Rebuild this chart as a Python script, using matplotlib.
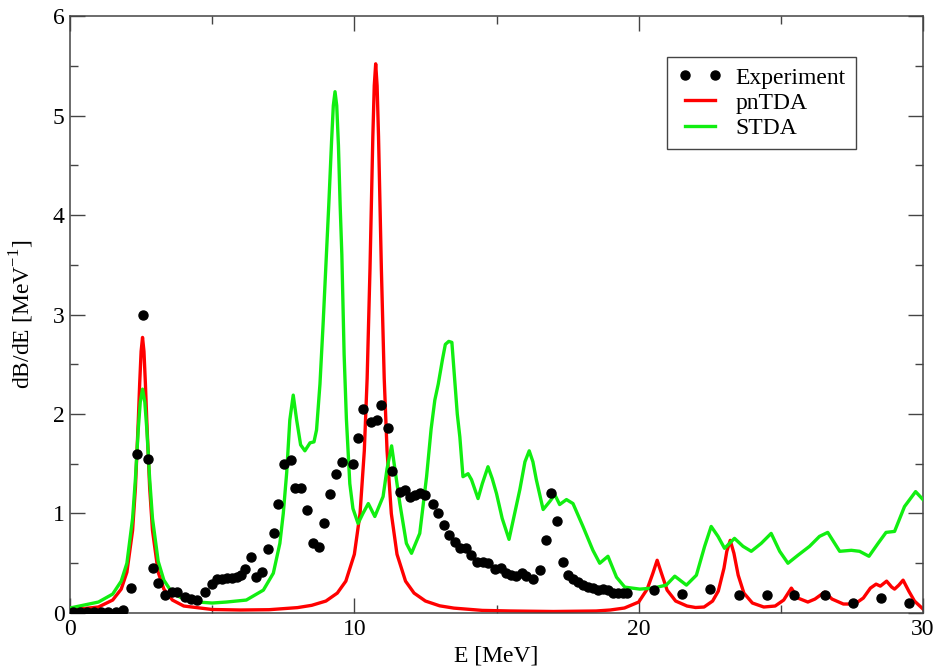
import matplotlib
matplotlib.use("Agg")
import matplotlib.pyplot as plt
from matplotlib.ticker import MultipleLocator

# experimental points (E in MeV, dB/dE)
exp_e = [0.1, 0.35, 0.6, 0.85, 1.1, 1.35, 1.6, 1.85, 2.14, 2.37, 2.55, 2.75, 2.93,
         3.10, 3.34, 3.57, 3.75, 4.04, 4.27, 4.45, 4.75, 4.98, 5.16, 5.33, 5.51,
         5.68, 5.86, 6.03, 6.17, 6.35, 6.54, 6.74, 6.95, 7.16, 7.33, 7.53, 7.76,
         7.91, 8.14, 8.34, 8.55, 8.76, 8.94, 9.14, 9.34, 9.55, 9.94, 10.13, 10.31,
         10.6, 10.78, 10.92, 11.19, 11.31, 11.6, 11.78, 11.95, 12.13, 12.3, 12.48,
         12.75, 12.95, 13.15, 13.33, 13.53, 13.71, 13.92, 14.12, 14.33, 14.52,
         14.7, 14.94, 15.17, 15.35, 15.52, 15.7, 15.88, 16.05, 16.28, 16.52, 16.73,
         16.93, 17.13, 17.34, 17.52, 17.69, 17.87, 18.04, 18.22, 18.39, 18.57,
         18.74, 18.92, 19.1, 19.27, 19.45, 19.59, 20.53, 21.52, 22.52, 23.52,
         24.52, 25.48, 26.54, 27.53, 28.53, 29.5]
exp_y = [0.01, 0.01, 0.01, 0.01, 0.01, 0.01, 0.01, 0.03, 0.25, 1.60, 3.00, 1.55, 0.45,
         0.30, 0.18, 0.21, 0.21, 0.16, 0.14, 0.13, 0.21, 0.29, 0.34, 0.34, 0.35,
         0.35, 0.36, 0.38, 0.44, 0.56, 0.36, 0.41, 0.64, 0.80, 1.10, 1.50, 1.54,
         1.26, 1.26, 1.04, 0.70, 0.66, 0.90, 1.20, 1.40, 1.52, 1.50, 1.76, 2.05,
         1.92, 1.94, 2.09, 1.86, 1.43, 1.22, 1.24, 1.17, 1.19, 1.21, 1.19,
         1.10, 1.00, 0.88, 0.78, 0.71, 0.65, 0.65, 0.58, 0.51, 0.51,
         0.50, 0.44, 0.45, 0.40, 0.38, 0.37, 0.40, 0.37, 0.34, 0.43, 0.73,
         1.21, 0.92, 0.51, 0.38, 0.34, 0.31, 0.28, 0.26, 0.25, 0.23,
         0.24, 0.23, 0.20, 0.20, 0.20, 0.20, 0.23, 0.19, 0.24, 0.18,
         0.18, 0.18, 0.18, 0.10, 0.15, 0.10]

# pnTDA curve
pn_e = [0.0, 1.0, 1.5, 1.8, 2.0, 2.2, 2.3, 2.4, 2.45, 2.5, 2.55, 2.6, 2.65, 2.7, 2.8,
        2.9, 3.1, 3.3, 3.6, 4.0, 5.0, 6.0, 7.0, 8.0, 8.5, 9.0, 9.4, 9.7, 10.0, 10.2,
        10.35, 10.45, 10.55, 10.65, 10.7, 10.75, 10.8, 10.85, 10.95, 11.05, 11.15,
        11.3, 11.5, 11.8, 12.1, 12.5, 13.0, 13.5, 14.5, 15.5, 17.0, 18.5, 19.0, 19.5,
        20.0, 20.3, 20.5, 20.65, 20.8, 21.0, 21.3, 21.7, 22.0, 22.3, 22.6, 22.8,
        23.0, 23.1, 23.22, 23.35, 23.5, 23.7, 24.0, 24.4, 24.8, 25.1, 25.37, 25.6,
        25.95, 26.2, 26.54, 26.8, 27.2, 27.6, 27.9, 28.15, 28.35, 28.5, 28.72,
        28.9, 29.0, 29.15, 29.3, 29.5, 29.7, 30.0]
pn_y = [0.03, 0.06, 0.13, 0.24, 0.41, 0.83, 1.26, 1.93, 2.31, 2.63, 2.77, 2.63, 2.31,
        1.93, 1.26, 0.83, 0.41, 0.24, 0.13, 0.07, 0.035, 0.03, 0.033, 0.054, 0.077,
        0.12, 0.20, 0.32, 0.59, 1.0, 1.63, 2.36, 3.46, 4.79, 5.30, 5.52, 5.30, 4.79,
        3.46, 2.36, 1.63, 1.0, 0.59, 0.32, 0.20, 0.12, 0.072, 0.049, 0.026, 0.02,
        0.015, 0.02, 0.03, 0.05, 0.11, 0.24, 0.40, 0.53, 0.40, 0.23, 0.12, 0.07,
        0.055, 0.06, 0.12, 0.22, 0.45, 0.62, 0.73, 0.60, 0.38, 0.20, 0.10, 0.06,
        0.07, 0.13, 0.25, 0.15, 0.11, 0.14, 0.21, 0.14, 0.09, 0.09, 0.15, 0.25,
        0.29, 0.27, 0.32, 0.26, 0.24, 0.28, 0.33, 0.22, 0.12, 0.04]

# STDA curve
st_e = [0.0, 1.0, 1.5, 1.8, 2.0, 2.2, 2.3, 2.4, 2.47, 2.55, 2.63, 2.7, 2.8, 2.9, 3.1,
        3.3, 3.6, 4.0, 4.5, 5.0, 5.5, 6.2, 6.8, 7.15, 7.38, 7.5, 7.62, 7.73, 7.85,
        7.97, 8.11, 8.26, 8.44, 8.58, 8.67, 8.79, 8.9, 9.0, 9.1, 9.2, 9.26, 9.32,
        9.38, 9.44, 9.5, 9.56, 9.64, 9.72, 9.84, 9.95, 10.13, 10.3, 10.49, 10.72,
        11.01, 11.15, 11.31, 11.45, 11.6, 11.83, 12.01, 12.3, 12.54, 12.7, 12.83,
        12.95, 13.1, 13.2, 13.32, 13.43, 13.53, 13.62, 13.71, 13.82, 14.0, 14.12,
        14.35, 14.5, 14.7, 14.85, 15.0, 15.2, 15.44, 15.6, 15.82, 16.0, 16.15,
        16.28, 16.4, 16.64, 16.87, 17.05, 17.22, 17.46, 17.69, 18.04, 18.39,
        18.63, 18.92, 19.22, 19.51, 20.04, 20.5, 20.97, 21.27, 21.68, 22.03,
        22.32, 22.55, 22.79, 23.02, 23.37, 23.67, 23.96, 24.31, 24.66, 24.96,
        25.25, 25.6, 26.01, 26.36, 26.65, 27.07, 27.48, 27.77, 28.1, 28.42, 28.7,
        29.0, 29.35, 29.74, 30.0]
st_y = [0.05, 0.11, 0.19, 0.32, 0.50, 0.95, 1.35, 1.85, 2.12, 2.25, 2.12, 1.85, 1.35,
        0.95, 0.52, 0.33, 0.20, 0.14, 0.11, 0.10, 0.11, 0.13, 0.23, 0.40, 0.70, 1.0,
        1.41, 1.94, 2.19, 1.94, 1.69, 1.63, 1.71, 1.72, 1.84, 2.3, 2.9, 3.5, 4.1,
        4.75, 5.1, 5.24, 5.1, 4.7, 4.1, 3.6, 2.6, 1.95, 1.3, 1.05, 0.90, 1.0, 1.10,
        0.97, 1.17, 1.45, 1.68, 1.40, 1.10, 0.70, 0.60, 0.80, 1.37, 1.85, 2.14,
        2.3, 2.55, 2.70, 2.73, 2.72, 2.34, 2.0, 1.77, 1.37, 1.40, 1.34,
        1.15, 1.30, 1.47, 1.35, 1.20, 0.95, 0.74, 0.95, 1.24, 1.52, 1.63,
        1.52, 1.34, 1.04, 1.12, 1.19, 1.09, 1.14, 1.10, 0.87, 0.63,
        0.50, 0.57, 0.36, 0.26, 0.24, 0.25, 0.28, 0.37, 0.28, 0.38,
        0.67, 0.87, 0.77, 0.65, 0.75, 0.67, 0.62, 0.70, 0.80, 0.62,
        0.50, 0.58, 0.67, 0.77, 0.81, 0.62, 0.63, 0.62, 0.57, 0.70, 0.81,
        0.82, 1.07, 1.22, 1.14]

plt.rcParams['font.family'] = ['Liberation Serif', 'DejaVu Serif']
plt.rcParams['font.size'] = 17

fig = plt.figure(figsize=(9.49, 6.70), dpi=100)
ax = fig.add_axes([0.0738, 0.0851, 0.8988, 0.8909])

ax.plot(pn_e, pn_y, color='#ff0000', lw=2.4, zorder=2, label='pnTDA',
        solid_joinstyle='round')
ax.plot(st_e, st_y, color='#11ee11', lw=2.4, zorder=3, label='STDA',
        solid_joinstyle='round')
ax.plot(exp_e, exp_y, 'o', color='black', ms=6.5, zorder=4, label='Experiment')

ax.set_xlim(0, 30)
ax.set_ylim(0, 6)
ax.xaxis.set_major_locator(MultipleLocator(10))
ax.xaxis.set_minor_locator(MultipleLocator(5))
ax.yaxis.set_major_locator(MultipleLocator(1))
ax.yaxis.set_minor_locator(MultipleLocator(0.5))
ax.tick_params(which='both', direction='in', top=True, right=True,
               color='#444444', width=1.0)
ax.tick_params(which='major', length=11, pad=4)
ax.tick_params(which='minor', length=5.5)
for s in ax.spines.values():
    s.set_color('#444444')
    s.set_linewidth(1.1)

ax.set_xlabel('E [MeV]', labelpad=4)
ax.set_ylabel('dB/dE [MeV$^{\\mathregular{-1}}$]', labelpad=12)

h, l = ax.get_legend_handles_labels()
order = [2, 0, 1]
leg = ax.legend([h[i] for i in order], [l[i] for i in order], numpoints=2,
                loc='upper left', bbox_to_anchor=(0.686, 0.952), fancybox=False,
                framealpha=1, edgecolor='#444444', handlelength=1.9,
                borderpad=0.45, labelspacing=0.15, handletextpad=0.55,
                borderaxespad=0.5)
leg.get_frame().set_linewidth(1.0)

fig.savefig('out.png', dpi=100)
